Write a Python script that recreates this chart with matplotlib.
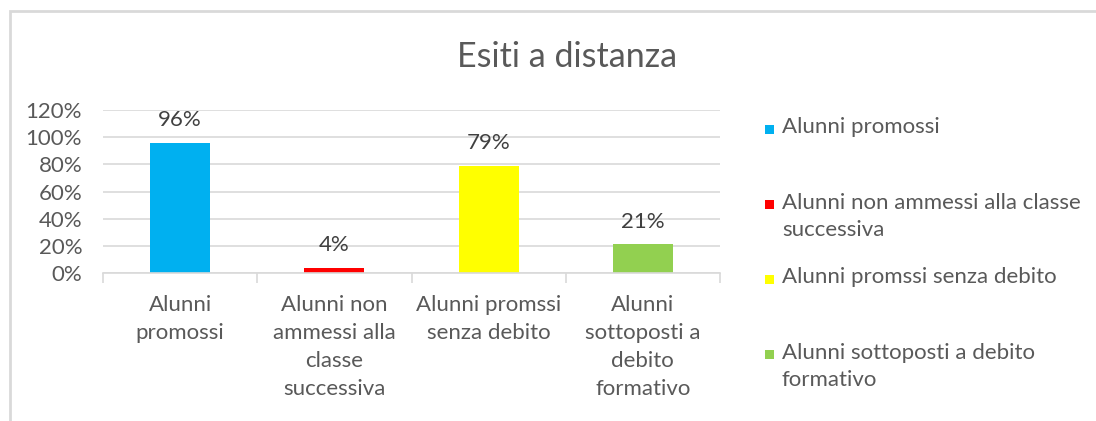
import matplotlib.pyplot as plt
from matplotlib.patches import Rectangle

plt.rcParams["font.family"] = ["Lato", "DejaVu Sans"]

categorie = [
    "Alunni\npromossi",
    "Alunni non\nammessi alla\nclasse\nsuccessiva",
    "Alunni promssi\nsenza debito",
    "Alunni\nsottoposti a\ndebito\nformativo",
]
voci_legenda = [
    "Alunni promossi",
    "Alunni non ammessi alla classe\nsuccessiva",
    "Alunni promssi senza debito",
    "Alunni sottoposti a debito\nformativo",
]
valori = [0.96, 0.04, 0.79, 0.21]
etichette = ["96%", "4%", "79%", "21%"]
colori = ["#00B0F0", "#FF0000", "#FFFF00", "#92D050"]
y_ticks = [0, 0.2, 0.4, 0.6, 0.8, 1.0, 1.2]

W, H = 1096, 421
fig = plt.figure(figsize=(W / 100, H / 100), dpi=100)
ax = fig.add_axes([103 / W, 1 - 273 / H, (720 - 103) / W, (273 - 110) / H])

x = list(range(len(valori)))
bars = ax.bar(x, valori, width=0.39, color=colori, zorder=2)
for b, lab in zip(bars, etichette):
    ax.annotate(lab, (b.get_x() + b.get_width() / 2, b.get_height()),
                xytext=(0, 9), textcoords="offset points",
                ha="center", va="bottom", fontsize=16, color="#404040")

ax.set_xlim(-0.5, len(valori) - 0.5)
ax.set_ylim(0, 1.2)
ax.set_yticks(y_ticks)
ax.set_yticklabels([f"{int(round(t * 100))}%" for t in y_ticks])
ax.tick_params(axis="y", length=0, pad=15, labelsize=16, labelcolor="#595959")
ax.grid(axis="y", color="#D9D9D9", lw=1.2, zorder=0)

ax.set_xticks(x)
ax.set_xticklabels(categorie, linespacing=1.5)
ax.tick_params(axis="x", which="major", length=0, pad=16, labelsize=16,
               labelcolor="#595959")
ax.set_xticks([i - 0.5 for i in range(len(valori) + 1)], minor=True)
ax.tick_params(axis="x", which="minor", length=7, color="#D9D9D9", width=1.2)

for s in ["top", "right", "left"]:
    ax.spines[s].set_visible(False)
ax.spines["bottom"].set_color("#D9D9D9")
ax.spines["bottom"].set_linewidth(1.2)

fig.text(567 / W, 1 - 57 / H, "Esiti a distanza", ha="center", va="center",
         fontsize=24.5, color="#595959")

# legenda manuale (spaziatura come in Excel)
for i, (voce, col) in enumerate(zip(voci_legenda, colori)):
    base = 133 + 75 * i
    n_righe = voce.count("\n") + 1
    ultima = base + 28 * (n_righe - 1)
    fig.text(782 / W, 1 - ultima / H, voce, ha="left", va="baseline",
             fontsize=16, color="#595959", linespacing=1.42)
    fig.add_artist(Rectangle((765 / W, 1 - (base + 1) / H), 9 / W, 9 / H,
                             transform=fig.transFigure, color=col, lw=0))

# cornice del grafico
fig.add_artist(Rectangle((10 / W, -0.5), 2, 0.5 + 1 - 11 / H, transform=fig.transFigure,
                         fill=False, ec="#D9D9D9", lw=2))

fig.savefig("out.png", dpi=100)
